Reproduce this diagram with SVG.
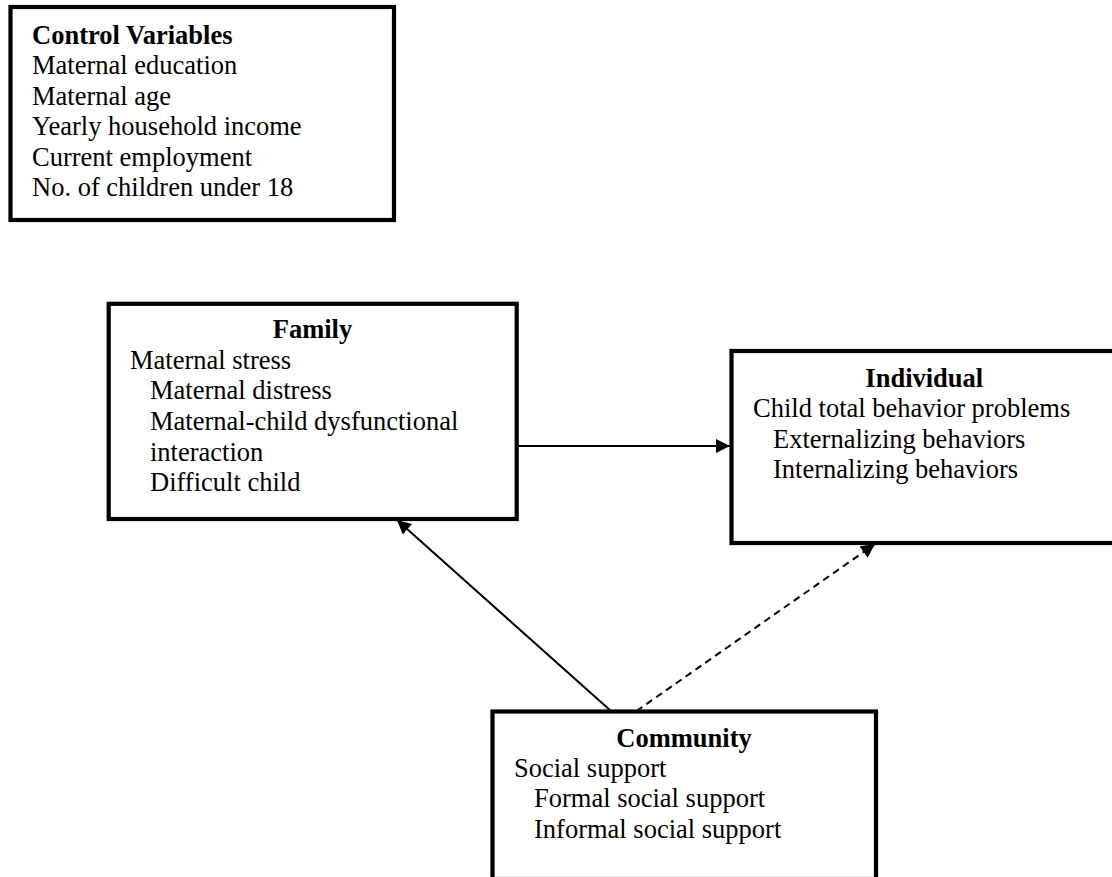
<svg xmlns="http://www.w3.org/2000/svg" width="1112" height="877" viewBox="0 0 1112 877">
<style>
  .box { fill: #fff; stroke: #000; stroke-width: 4.2; }
  .t { font-family: "Liberation Serif", "Times New Roman", serif; font-size: 26.5px; fill: #000; }
  .b { font-weight: bold; }
  .c { text-anchor: middle; }
  .conn { stroke: #000; stroke-width: 2; fill: none; }
  .dash { stroke-dasharray: 7 5; }
</style>
<defs>
  <marker id="ah" markerUnits="userSpaceOnUse" markerWidth="16" markerHeight="16" refX="14" refY="7" orient="auto">
    <path d="M0,0 L14,7 L0,14 z" fill="#000" stroke="none"/>
  </marker>
</defs>
<rect width="1112" height="877" fill="#fff"/>
<g id="connectors">
  <line class="conn" x1="518" y1="446" x2="730" y2="446" marker-end="url(#ah)"/>
  <line class="conn" x1="611" y1="711" x2="397" y2="520" marker-end="url(#ah)"/>
  <line class="conn dash" x1="636.5" y1="711" x2="875" y2="544" marker-end="url(#ah)"/>
</g>
<g id="control">
  <rect class="box" x="10.5" y="7" width="383.5" height="213"/>
  <text class="t b" x="32" y="43.5">Control Variables</text>
  <text class="t" x="32" y="74">Maternal education</text>
  <text class="t" x="32" y="104.5">Maternal age</text>
  <text class="t" x="32" y="135">Yearly household income</text>
  <text class="t" x="32" y="165.5">Current employment</text>
  <text class="t" x="32" y="196">No. of children under 18</text>
</g>
<g id="family">
  <rect class="box" x="108.7" y="303.8" width="408" height="215.2"/>
  <text class="t b c" x="312.5" y="338">Family</text>
  <text class="t" x="130" y="368.7">Maternal stress</text>
  <text class="t" x="150" y="399.3">Maternal distress</text>
  <text class="t" x="150" y="430">Maternal-child dysfunctional</text>
  <text class="t" x="150" y="460.7">interaction</text>
  <text class="t" x="150" y="491.3">Difficult child</text>
</g>
<g id="individual">
  <rect class="box" x="731.5" y="351" width="385.5" height="192"/>
  <text class="t b c" x="924.3" y="386.7">Individual</text>
  <text class="t" x="753" y="417">Child total behavior problems</text>
  <text class="t" x="773" y="447.5">Externalizing behaviors</text>
  <text class="t" x="773" y="478">Internalizing behaviors</text>
</g>
<g id="community">
  <rect class="box" x="492.5" y="711.5" width="383.5" height="167.5"/>
  <text class="t b c" x="684" y="746.7">Community</text>
  <text class="t" x="514" y="776.9">Social support</text>
  <text class="t" x="534" y="807.4">Formal social support</text>
  <text class="t" x="534" y="838">Informal social support</text>
</g>
</svg>
